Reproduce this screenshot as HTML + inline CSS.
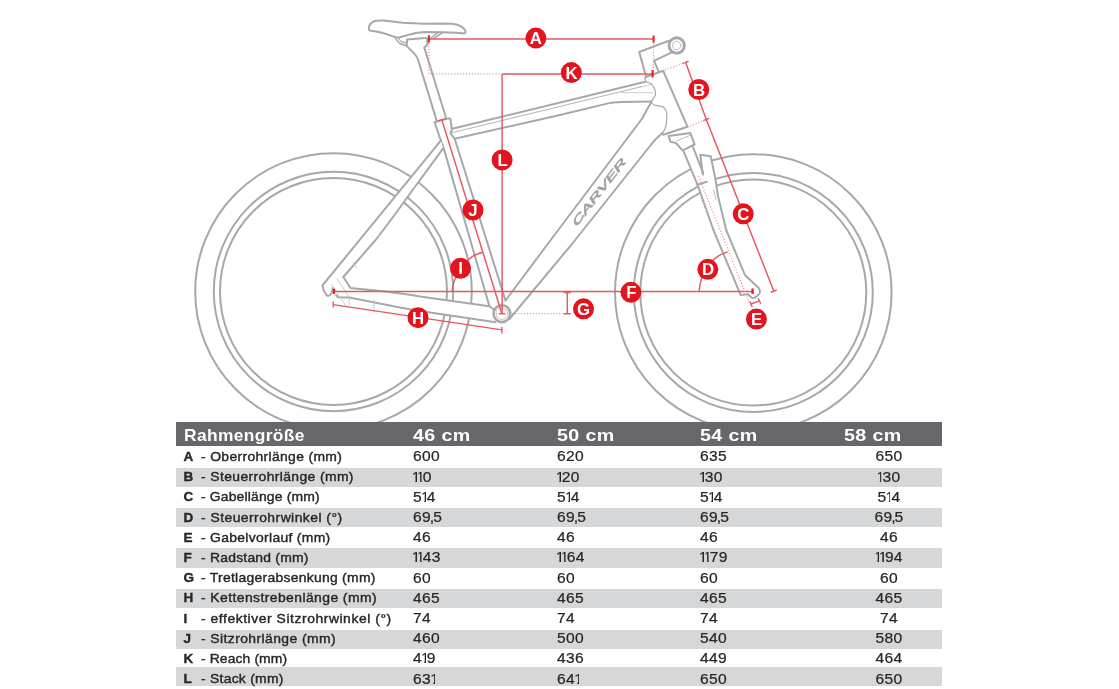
<!DOCTYPE html><html lang="de"><head><meta charset="utf-8"><title>Geometrie</title><style>
html,body{margin:0;padding:0;background:#fff;}
body{width:1119px;height:689px;position:relative;overflow:hidden;font-family:"Liberation Sans",sans-serif;}
#dia{position:absolute;left:0;top:0;filter:blur(0.45px);}
.hd{position:absolute;left:176px;top:421.5px;width:765.8px;height:24.4px;background:#66676a;}
.ht{position:absolute;color:#fff;font-weight:bold;font-size:16.4px;line-height:16px;white-space:nowrap;top:427.4px;transform-origin:0 50%;}
.st{position:absolute;left:176px;width:765.8px;background:#d6d7d9;}
.t{position:absolute;color:#262626;font-size:13.5px;line-height:14px;white-space:nowrap;-webkit-text-stroke:0.4px #262626;transform-origin:0 50%;}
.l{font-weight:bold;-webkit-text-stroke:0.35px #262626;}
.n{transform:scaleX(1.03);}
.v{transform:scaleX(1.1);letter-spacing:0.28px;font-size:14.2px;-webkit-text-stroke:0.22px #262626;margin-top:-0.7px;}
.v i{font-style:normal;display:inline-block;width:0.252em;height:14px;line-height:14px;text-indent:-0.092em;overflow:hidden;vertical-align:top;margin:0 0.75px 0 0.1px;clip-path:polygon(0 0,100% 0,100% 100%,56% 100%,56% 71%,0 71%);}
.v b{font-weight:normal;margin:0 -1.2px 0 -1.1px;}
.c{width:80px;text-align:center;transform-origin:50% 50%;}
</style></head><body>
<svg id="dia" width="1119" height="430" viewBox="0 0 1119 430">
<g fill="none" stroke="#a7a8ab" stroke-width="2" stroke-linecap="round" stroke-linejoin="round">
<!-- wheels -->
<circle cx="333.5" cy="291.5" r="138.3"/>
<circle cx="333.5" cy="291.5" r="119.7"/>
<circle cx="333.5" cy="291.5" r="113.5"/>
<circle cx="753.3" cy="292.5" r="138.3"/>
<circle cx="753.3" cy="292.5" r="119.5"/>
<circle cx="753.3" cy="292.5" r="113"/>
<!-- saddle -->
<path d="M368.8,28.8 C368.8,25.5 370.5,22.5 375,21 C378,20.2 381,20.3 383.6,20.5 L402.9,22.7 L424.3,23.7 L445.8,23.4 C450,23.5 453.5,23.8 456.5,24.5 C459.5,25.4 461.5,26.5 462.9,27.7 C464.5,29 465.5,30.3 465.6,31.4 C465.7,32.6 465.2,33.3 464,33.4 L456.5,32.7 L441.5,32.3 L424.3,32 C421,32.2 418.5,32.6 415.8,33.1 C412.5,33.8 410,34.5 407.2,35.2 L399.7,37.3 C398,37.7 396.8,37.7 395.4,37.3 C392,36.3 389.5,35.1 386.8,34.1 C383,32.9 379.5,32.1 376.1,31.4 L369.7,30.4 C369,30 368.8,29.5 368.8,28.8 Z"/>
<path d="M395.4,37.3 C396,39 396.5,40 397.5,41.1 C399,43 400.3,43.8 401.8,44.3 C403.5,45 405,45.3 406.6,45.6" stroke-width="1.5"/>
<path d="M398.6,37.9 C399.3,39.5 400,40.6 401.3,41.6 C403,42.5 405,42.7 407,42.7" stroke-width="1.2" stroke="#b0b0b0"/>
<path d="M407.2,39.5 L425.6,38.1"/>
<path d="M429.7,39 L437.2,33.1 M434,38.4 L442.6,32.7" stroke-width="1.5"/>
<!-- seatpost -->
<path d="M407.2,39.5 L406.6,45.9 L413.6,52.9 Q416.6,56 418,59.5 L436.7,120.9"/>
<path d="M427,38.4 L427.6,44.3 L424.3,47.5 L446.1,118"/>
<!-- seat collar + seat tube -->
<path d="M489.3,305.8 L443.9,148.9 L441,141 L434.6,122.2 L448.5,118.4 Q450.4,118 450.6,120 L451.8,128.8 Q451.8,131.5 450.4,133.1 L454.7,138.8 L505.5,300.5"/>
<!-- top tube -->
<path d="M452.3,128.8 L645.3,81.8"/>
<path d="M452.3,132.6 L641.8,86.6" stroke-width="1" stroke="#b4b4b4"/>
<path d="M454.7,138.8 L560,115 L608,103.4 Q613,102.2 621,101.9 L651.5,101.6"/>
<!-- seat stays -->
<path d="M441,140.3 L322.4,285.5 L323.7,290.5 L327,295.8 L329.8,295.6 L331.6,292.5 L332.9,288 L336.1,295.1 L338.1,297.2 L349.2,297.4 L400,307.5 L420,311 L495.6,322.3 L501.9,313.7 L489.3,306.3 L420,296.6 Q400,292.6 350.5,288 L343.3,277 L375.6,240 Q392,219 413,189.5 L443,148.6 Z" fill="#fff" stroke="none"/>
<path d="M441,140.3 L322.4,285.5 L323.7,290.5 L327,295.8 L329.8,295.6 L331.6,292.5 L332.9,288"/>
<path d="M443,148.6 L413,189.5 Q392,219 375.6,240 L343.3,277 L350.5,288 Q400,292.6 420,296.6 L489.3,306.3 L493,309"/>
<!-- chainstay lower -->
<path d="M336.1,295.1 L338.1,297.2 L349.2,297.4 L400,307.5 L420,311 L495.6,322.3"/>
<!-- small light details near dropout -->
<g stroke="#c4c4c4" stroke-width="0.9">
<path d="M336.6,278 L349.5,297.5"/><path d="M331.6,284.5 L346,306"/><path d="M349.5,297.5 L349,305"/>
<path d="M353.1,262.3 L356.7,268"/><path d="M374,299.6 L374,311.8"/>
</g>
<!-- BB -->
<circle cx="501.9" cy="313.7" r="8.4" stroke-width="2.6" fill="#fff"/>
<circle cx="501.9" cy="313.7" r="5.8" stroke-width="0.9" stroke="#c9b4b4"/>
<!-- down tube -->
<path d="M651.5,101.8 Q646,111 642.2,118.5 L547.7,244 L505.5,300.5"/>
<path d="M661.8,133.5 Q655,139 650,146 L572,244 L509.5,319"/>
<!-- head tube -->
<path d="M645.3,78 L645.7,77 L663.2,70.8 L687.6,126.8 L663.2,134.7 L661.8,133.3"/>
<path d="M645.3,78 L645.7,81.5 C648,82.5 650,83 651,83.7 C653,86 655,89 655.3,90.9 L655.3,95.2 C654,98 652,100.5 651,101.7 C652,103.5 653.5,104.8 654.6,105.2 C658,106 661,106.3 663.2,106.7 C665.5,109 666.8,112 666.8,114.6 C667,120 666.3,125 665.4,127.5 C664.5,130 663.5,132 662.5,133.3" stroke-width="1.2"/>
<path d="M621,92.7 L653,92.7" stroke="#c8c8c8" stroke-width="0.9"/>
<path d="M632,89 L651,84.5" stroke="#c8c8c8" stroke-width="0.9"/>
<!-- stem -->
<circle cx="676.7" cy="45.5" r="7.7" stroke-width="2.9"/>
<circle cx="676.7" cy="45.5" r="4.2" stroke-width="1" stroke="#bcbcbc"/>
<path d="M668.8,40.8 L639.2,52 L646.1,76.5"/>
<path d="M671.2,52.6 L654,60.9 L658.9,71.8"/>
<path d="M683.1,150.2 L697.5,184.7 L713.4,230 L740.6,294.9 L748.1,294.2 L751.9,297.9 L756.4,296.6 L759.4,293.6 L758.7,288.1 L745.1,275.3 L726.2,230 L718,196 L715.4,178.9 L710.7,156.2 L700.3,154.8 L701.3,162 L695.5,149 L694.6,144.5 Z" fill="#fff" stroke="none"/>
<!-- fork crown -->
<path d="M668.7,136.1 L670.2,141.6 L675.9,143 L681.7,149.5 L683.1,150.2 L694.6,144.5 L690.3,132.9 Z"/>
<path d="M676.6,140.9 L689.5,135.6" stroke-width="1" stroke="#b8b8b8"/>
<!-- fork legs -->
<path d="M683.1,150.2 L697.5,184.7 L706.8,181.8"/>
<path d="M693.1,147.3 L703.2,173.2"/>
<path d="M702.8,174.6 L700.3,154.8 L710.7,156.2 L715.4,178.9 L718,196 L726.2,230 L745.1,275.3 L758.7,288.1 Q760.6,291 759.4,293.6 L756.4,296.6 Q754,298.4 751.9,297.9 L748.1,294.2 L740.6,294.9 L713.4,230 L697.5,184.7"/>
<path d="M713.6,189.8 L716,200" stroke-width="0.9" stroke="#bbb"/>
</g>
<!-- CARVER logo -->
<text transform="translate(576.3,227.6) rotate(-52.6) skewX(-20)" font-family="Liberation Sans, sans-serif" font-size="10.4" fill="#a2a2a2" stroke="#a2a2a2" stroke-width="0.6" textLength="82" lengthAdjust="spacingAndGlyphs">CARVER</text>
<!-- red measurement lines -->
<g fill="none" stroke="#e5585e" stroke-width="1.45">
<!-- A -->
<path d="M428.9,38.9 L653.6,38.9"/>
<path d="M428.9,35.3 L428.9,42.6 M653.6,35.4 L653.6,42.8" stroke-width="2" stroke="#e3232b"/>
<!-- K -->
<path d="M502.1,73.9 L652.6,73.9"/>
<path d="M652.6,70 L652.6,77.5" stroke-width="2.2" stroke="#e3232b"/>
<!-- L -->
<path d="M502.1,73.9 L502.1,313.7"/>
<path d="M498.5,313.7 L505.5,313.7" stroke-width="1.4"/>
<!-- J -->
<path d="M441.8,119.7 L501.9,313.7"/>
<path d="M437.6,120.9 L446,118.6" stroke-width="1.4"/>
<!-- F -->
<path d="M333.7,291.4 L752.6,291.4"/>
<path d="M333.9,288.7 L333.9,294.1 M752.6,288.6 L752.6,294" stroke-width="2.4" stroke="#e3232b"/>
<!-- H -->
<path d="M333.3,304.6 L501.9,329.9"/>
<path d="M333.3,301.6 L333.3,307.6 M501.9,327 L501.9,333.5" stroke-width="1.4"/>
<!-- G -->
<path d="M567.3,292.3 L567.3,313.7"/>
<path d="M563.8,292.4 L570.8,292.4 M563.8,313.7 L570.8,313.7" stroke-width="1.5"/>
<!-- I arc -->
<path d="M482.1,252.5 C470,255 455,268 452,291.4"/>
<!-- D arc -->
<path d="M727.7,251.9 C712,256 700.5,272 699.1,291.2"/>
<!-- B & C -->
<path d="M685.6,62.3 L706.3,119.5 L773.8,291.1"/>
<path d="M682.6,63.4 L688.6,61.2 M703.3,120.7 L709.3,118.4 M770.8,292.3 L776.8,290" stroke-width="1.5"/>
<!-- E -->
<path d="M751.1,304 L759.4,300.9"/>
<path d="M749.9,301.2 L752.2,307 M758.2,298 L760.7,303.8" stroke-width="1.3"/>
</g>
<g fill="none" stroke="#ee979b" stroke-width="1.25" stroke-dasharray="1.2 1.75">
<path d="M428.9,43 L428.9,73.9 L500.5,73.9"/>
<path d="M653.6,43.5 L653.6,70"/>
<path d="M664.8,70.2 L685.6,62.3"/>
<path d="M687.5,127.2 L706.3,119.5"/>
<path d="M698.4,176.1 L751.1,307"/>
<path d="M512,313.7 L564,313.7"/>
</g>
<!-- label circles -->
<g fill="#e3141d">
<circle cx="535.9" cy="38.1" r="10.5"/><circle cx="571.3" cy="72.6" r="10.5"/><circle cx="698.8" cy="89.5" r="10.5"/>
<circle cx="743.2" cy="213.8" r="10.5"/><circle cx="707.8" cy="269.3" r="10.5"/><circle cx="756.4" cy="319.1" r="10.5"/>
<circle cx="630.9" cy="292.3" r="10.5"/><circle cx="583.5" cy="308.8" r="10.5"/><circle cx="418" cy="317.7" r="10.5"/>
<circle cx="460.5" cy="268.3" r="10.5"/><circle cx="473" cy="210" r="10.5"/><circle cx="502.1" cy="159.9" r="10.5"/>
</g>
<g fill="#fff" font-family="Liberation Sans, sans-serif" font-weight="bold" font-size="16.8" text-anchor="middle">
<text x="535.9" y="44.1">A</text><text x="571.6" y="78.6">K</text><text x="699" y="95.5">B</text>
<text x="743.2" y="219.8">C</text><text x="708" y="275.3">D</text><text x="756.6" y="325.1">E</text>
<text x="631.3" y="298.3">F</text><text x="583.5" y="314.8">G</text><text x="418" y="323.7">H</text>
<text x="460.5" y="274.3">I</text><text x="473" y="216.0">J</text><text x="502.6" y="165.9">L</text>
</g>
</svg>

<div class="hd"></div>
<div class="st" style="top:467.6px;height:19.4px"></div>
<div class="st" style="top:507.7px;height:19.4px"></div>
<div class="st" style="top:547.9px;height:20.0px"></div>
<div class="st" style="top:588.6px;height:19.7px"></div>
<div class="st" style="top:629.7px;height:18.9px"></div>
<div class="st" style="top:667.2px;height:19.3px"></div>
<div class="ht" style="left:184.2px;transform:scaleX(1.06);letter-spacing:0.34px">Rahmengröße</div>
<div class="ht" style="left:413.3px;transform:scaleX(1.2);letter-spacing:0.32px">46 cm</div>
<div class="ht" style="left:556.8px;transform:scaleX(1.2);letter-spacing:0.32px">50 cm</div>
<div class="ht" style="left:700.2px;transform:scaleX(1.2);letter-spacing:0.32px">54 cm</div>
<div class="ht" style="left:844.2px;transform:scaleX(1.2);letter-spacing:0.32px">58 cm</div>
<div class="t l" style="left:183.6px;top:450.0px">A</div>
<div class="t n" style="left:200.6px;top:450.0px;letter-spacing:0.33px">- Oberrohrlänge (mm)</div>
<div class="t v" style="left:413.2px;top:450.0px">600</div>
<div class="t v" style="left:556.6px;top:450.0px">620</div>
<div class="t v" style="left:700.2px;top:450.0px">635</div>
<div class="t v c" style="left:848.8px;top:450.0px">650</div>
<div class="t l" style="left:183.6px;top:470.2px">B</div>
<div class="t n" style="left:200.6px;top:470.2px;letter-spacing:0.37px">- Steuerrohrlänge (mm)</div>
<div class="t v" style="left:413.2px;top:470.2px"><i>1</i><i>1</i>0</div>
<div class="t v" style="left:556.6px;top:470.2px"><i>1</i>20</div>
<div class="t v" style="left:700.2px;top:470.2px"><i>1</i>30</div>
<div class="t v c" style="left:848.8px;top:470.2px"><i>1</i>30</div>
<div class="t l" style="left:183.6px;top:490.4px">C</div>
<div class="t n" style="left:200.6px;top:490.4px;letter-spacing:0.16px">- Gabellänge (mm)</div>
<div class="t v" style="left:413.2px;top:490.4px">5<i>1</i>4</div>
<div class="t v" style="left:556.6px;top:490.4px">5<i>1</i>4</div>
<div class="t v" style="left:700.2px;top:490.4px">5<i>1</i>4</div>
<div class="t v c" style="left:848.8px;top:490.4px">5<i>1</i>4</div>
<div class="t l" style="left:183.6px;top:510.6px">D</div>
<div class="t n" style="left:200.6px;top:510.6px;letter-spacing:0.44px">- Steuerrohrwinkel (°)</div>
<div class="t v" style="left:413.2px;top:510.6px">69<b>,</b>5</div>
<div class="t v" style="left:556.6px;top:510.6px">69<b>,</b>5</div>
<div class="t v" style="left:700.2px;top:510.6px">69<b>,</b>5</div>
<div class="t v c" style="left:848.8px;top:510.6px">69<b>,</b>5</div>
<div class="t l" style="left:183.6px;top:530.8px">E</div>
<div class="t n" style="left:200.6px;top:530.8px;letter-spacing:0.30px">- Gabelvorlauf (mm)</div>
<div class="t v" style="left:413.2px;top:530.8px">46</div>
<div class="t v" style="left:556.6px;top:530.8px">46</div>
<div class="t v" style="left:700.2px;top:530.8px">46</div>
<div class="t v c" style="left:848.8px;top:530.8px">46</div>
<div class="t l" style="left:183.6px;top:551.0px">F</div>
<div class="t n" style="left:200.6px;top:551.0px;letter-spacing:0.22px">- Radstand (mm)</div>
<div class="t v" style="left:413.2px;top:551.0px"><i>1</i><i>1</i>43</div>
<div class="t v" style="left:556.6px;top:551.0px"><i>1</i><i>1</i>64</div>
<div class="t v" style="left:700.2px;top:551.0px"><i>1</i><i>1</i>79</div>
<div class="t v c" style="left:848.8px;top:551.0px"><i>1</i><i>1</i>94</div>
<div class="t l" style="left:183.6px;top:571.2px">G</div>
<div class="t n" style="left:200.6px;top:571.2px;letter-spacing:0.27px">- Tretlagerabsenkung (mm)</div>
<div class="t v" style="left:413.2px;top:571.2px">60</div>
<div class="t v" style="left:556.6px;top:571.2px">60</div>
<div class="t v" style="left:700.2px;top:571.2px">60</div>
<div class="t v c" style="left:848.8px;top:571.2px">60</div>
<div class="t l" style="left:183.6px;top:591.4px">H</div>
<div class="t n" style="left:200.6px;top:591.4px;letter-spacing:0.41px">- Kettenstrebenlänge (mm)</div>
<div class="t v" style="left:413.2px;top:591.4px">465</div>
<div class="t v" style="left:556.6px;top:591.4px">465</div>
<div class="t v" style="left:700.2px;top:591.4px">465</div>
<div class="t v c" style="left:848.8px;top:591.4px">465</div>
<div class="t l" style="left:183.6px;top:611.6px">I</div>
<div class="t n" style="left:200.6px;top:611.6px;letter-spacing:0.53px">- effektiver Sitzrohrwinkel (°)</div>
<div class="t v" style="left:413.2px;top:611.6px">74</div>
<div class="t v" style="left:556.6px;top:611.6px">74</div>
<div class="t v" style="left:700.2px;top:611.6px">74</div>
<div class="t v c" style="left:848.8px;top:611.6px">74</div>
<div class="t l" style="left:183.6px;top:631.8px">J</div>
<div class="t n" style="left:200.6px;top:631.8px;letter-spacing:0.40px">- Sitzrohrlänge (mm)</div>
<div class="t v" style="left:413.2px;top:631.8px">460</div>
<div class="t v" style="left:556.6px;top:631.8px">500</div>
<div class="t v" style="left:700.2px;top:631.8px">540</div>
<div class="t v c" style="left:848.8px;top:631.8px">580</div>
<div class="t l" style="left:183.6px;top:652.0px">K</div>
<div class="t n" style="left:200.6px;top:652.0px;letter-spacing:0.10px">- Reach (mm)</div>
<div class="t v" style="left:413.2px;top:652.0px">4<i>1</i>9</div>
<div class="t v" style="left:556.6px;top:652.0px">436</div>
<div class="t v" style="left:700.2px;top:652.0px">449</div>
<div class="t v c" style="left:848.8px;top:652.0px">464</div>
<div class="t l" style="left:183.6px;top:672.2px">L</div>
<div class="t n" style="left:200.6px;top:672.2px;letter-spacing:0.25px">- Stack (mm)</div>
<div class="t v" style="left:413.2px;top:672.2px">63<i>1</i></div>
<div class="t v" style="left:556.6px;top:672.2px">64<i>1</i></div>
<div class="t v" style="left:700.2px;top:672.2px">650</div>
<div class="t v c" style="left:848.8px;top:672.2px">650</div>
</body></html>
